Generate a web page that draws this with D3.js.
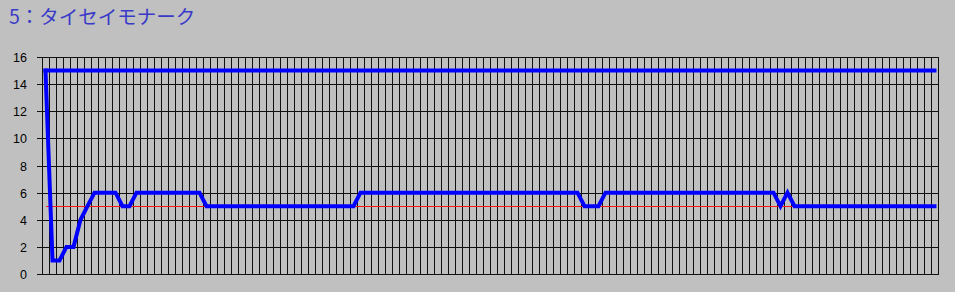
<!DOCTYPE html>
<html>
<head>
<meta charset="utf-8">
<script src="https://cdn.jsdelivr.net/npm/d3@7"></script>
<style>
html,body{margin:0;padding:0;background:#c0c0c0;}
svg{display:block;}
</style>
</head>
<body>
<svg id="chart" width="955" height="292"></svg>
<script>
// ---- data ----
const titleText = "5：タイセイモナーク";
const yTicks = [0, 2, 4, 6, 8, 10, 12, 14, 16];
const categories = [
  1,2,3,4,5,6,7,8,9,10,11,12,13,14,15,16,17,18,19,20,
  21,22,23,24,25,26,27,28,29,30,31,32,33,34,35,36,37,38,39,40,
  41,42,43,44,45,46,47,48,49,50,51,52,53,54,55,56,57,58,59,60,
  61,62,63,64,65,66,67,68,69,70,71,72,73,74,75,76,77,78,79,80,
  81,82,83,84,85,86,87,88,89,90,91,92,93,94,95,96,97,98,99,100,
  101,102,103,104,105,106,107,108,109,110,111,112,113,114,115,116,117,118,119,120,
  121,122,123,124,125,126,127,128
];
const fieldSize = [
  15,15,15,15,15,15,15,15,15,15,15,15,15,15,15,15,15,15,15,15,
  15,15,15,15,15,15,15,15,15,15,15,15,15,15,15,15,15,15,15,15,
  15,15,15,15,15,15,15,15,15,15,15,15,15,15,15,15,15,15,15,15,
  15,15,15,15,15,15,15,15,15,15,15,15,15,15,15,15,15,15,15,15,
  15,15,15,15,15,15,15,15,15,15,15,15,15,15,15,15,15,15,15,15,
  15,15,15,15,15,15,15,15,15,15,15,15,15,15,15,15,15,15,15,15,
  15,15,15,15,15,15,15,15
];
const horseNumber = [
  5,5,5,5,5,5,5,5,5,5,5,5,5,5,5,5,5,5,5,5,
  5,5,5,5,5,5,5,5,5,5,5,5,5,5,5,5,5,5,5,5,
  5,5,5,5,5,5,5,5,5,5,5,5,5,5,5,5,5,5,5,5,
  5,5,5,5,5,5,5,5,5,5,5,5,5,5,5,5,5,5,5,5,
  5,5,5,5,5,5,5,5,5,5,5,5,5,5,5,5,5,5,5,5,
  5,5,5,5,5,5,5,5,5,5,5,5,5,5,5,5,5,5,5,5,
  5,5,5,5,5,5,5,5
];
const rank = [
  15,1,1,2,2,4,5,6,6,6,
  6,5,5,6,6,6,6,6,6,6,
  6,6,6,5,5,5,5,5,5,5,
  5,5,5,5,5,5,5,5,5,5,
  5,5,5,5,5,6,6,6,6,6,
  6,6,6,6,6,6,6,6,6,6,
  6,6,6,6,6,6,6,6,6,6,
  6,6,6,6,6,6,6,5,5,5,
  6,6,6,6,6,6,6,6,6,6,
  6,6,6,6,6,6,6,6,6,6,
  6,6,6,6,6,5,6,5,5,5,
  5,5,5,5,5,5,5,5,5,5,
  5,5,5,5,5,5,5,5
];

// ---- layout ----
const svg = d3.select("#chart");
const plot = {left: 42, right: 938, top: 57, bottom: 274};

const x = d3.scaleBand().domain(categories).range([plot.left, plot.right]).padding(0);
const y = d3.scaleLinear().domain([0, 16]).range([plot.bottom, plot.top]);
const cx = d => x(d) + x.bandwidth() / 2;
const crisp = v => Math.round(v) + 0.5;

// title
svg.append("text")
  .attr("x", 9).attr("y", 24)
  .attr("font-family", "'Noto Sans CJK JP', sans-serif")
  .attr("font-size", 19.5)
  .attr("fill", "#3a3ac8")
  .text(titleText);

const g = svg.append("g");

// vertical grid lines at category boundaries
const bounds = categories.map(c => x(c)).concat([plot.right]);
g.append("g").selectAll("line").data(bounds).join("line")
  .attr("x1", d => crisp(d)).attr("x2", d => crisp(d))
  .attr("y1", crisp(plot.top)).attr("y2", crisp(plot.bottom))
  .attr("stroke", "#101010").attr("stroke-width", 1)
  .attr("shape-rendering", "crispEdges");

// y axis with horizontal grid
const yAxis = d3.axisLeft(y).tickValues(yTicks).tickSize(plot.right - plot.left + 5).tickPadding(10);
const ya = g.append("g").attr("transform", `translate(${plot.right},0)`).call(yAxis);
ya.select(".domain").remove();
ya.selectAll(".tick line").attr("stroke", "#101010").attr("shape-rendering", "crispEdges");
ya.selectAll(".tick").attr("transform", d => `translate(0,${crisp(y(d))})`);
ya.selectAll(".tick text")
  .attr("font-family", "'Liberation Sans', Arial, sans-serif")
  .attr("font-size", 12.5)
  .attr("fill", "#000");

// frame
g.append("rect")
  .attr("x", crisp(plot.left)).attr("y", crisp(plot.top))
  .attr("width", Math.round(plot.right - plot.left)).attr("height", Math.round(plot.bottom - plot.top))
  .attr("fill", "none").attr("stroke", "#101010").attr("shape-rendering", "crispEdges");

const line = d3.line().x((d, i) => cx(categories[i])).y(d => y(d));

// red reference line
g.append("path").datum(horseNumber)
  .attr("d", line).attr("fill", "none")
  .attr("stroke", "#ff1a1a").attr("stroke-width", 1)
  .attr("shape-rendering", "crispEdges");

// blue field size line
g.append("path").datum(fieldSize)
  .attr("d", line).attr("fill", "none")
  .attr("stroke", "#0000ff").attr("stroke-width", 4)
  .attr("stroke-linecap", "square");

// blue rank line
g.append("path").datum(rank)
  .attr("d", line).attr("fill", "none")
  .attr("stroke", "#0000ff").attr("stroke-width", 4)
  .attr("stroke-linejoin", "miter")
  .attr("stroke-linecap", "square");
</script>
</body>
</html>
